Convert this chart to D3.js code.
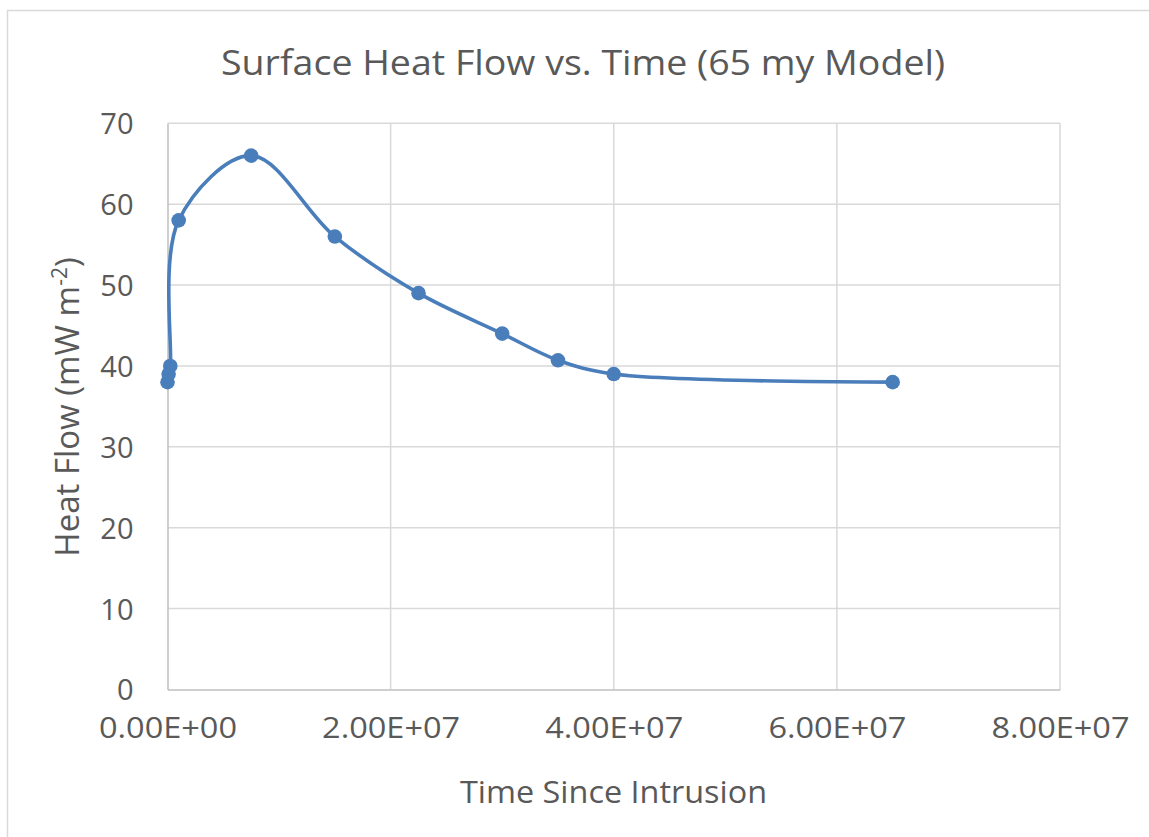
<!DOCTYPE html>
<html>
<head>
<meta charset="utf-8">
<script src="https://cdn.jsdelivr.net/npm/d3@7"></script>
<style>
  html, body { margin: 0; padding: 0; background: #fff; }
  svg { display: block; }
  text { font-family: "Open Sans", "Lato", sans-serif; fill: #595959; }
</style>
</head>
<body>
<svg id="chart" width="1149" height="837"></svg>
<script>
// ---- data ----
const timeValues = [0, 1e5, 2.5e5, 1e6, 7.5e6, 1.5e7, 2.25e7, 3.0e7, 3.5e7, 4.0e7, 6.5e7];
const heatFlowValues = [38, 39, 40, 58, 66, 56, 49, 44, 40.7, 39, 38];
const xTicks = [0, 2e7, 4e7, 6e7, 8e7];
const xTickLabels = ["0.00E+00", "2.00E+07", "4.00E+07", "6.00E+07", "8.00E+07"];
const yTicks = [0, 10, 20, 30, 40, 50, 60, 70];
const titleText = "Surface Heat Flow vs. Time (65 my Model)";
const xTitleText = "Time Since Intrusion";

// ---- layout ----
const W = 1149, H = 837;
const plot = { left: 167.5, right: 1060, top: 123.3, bottom: 689.5 };
const svg = d3.select("#chart");

// chart area border
svg.append("rect")
  .attr("x", 7.5).attr("y", 10.5)
  .attr("width", W + 20).attr("height", H + 20)
  .attr("fill", "#fff").attr("stroke", "#d9d9d9").attr("stroke-width", 1.5);

const x = d3.scaleLinear().domain([0, 8e7]).range([plot.left, plot.right]);
const y = d3.scaleLinear().domain([0, 70]).range([plot.bottom, plot.top]);

// gridlines
const gy = svg.append("g");
gy.selectAll("line").data(yTicks.filter(d => d > 0)).join("line")
  .attr("x1", plot.left).attr("x2", plot.right)
  .attr("y1", d => y(d)).attr("y2", d => y(d))
  .attr("stroke", "#d9d9d9").attr("stroke-width", 1.5);
const gx = svg.append("g");
gx.selectAll("line").data(xTicks.filter(d => d > 0)).join("line")
  .attr("x1", d => x(d)).attr("x2", d => x(d))
  .attr("y1", plot.top).attr("y2", plot.bottom)
  .attr("stroke", "#d9d9d9").attr("stroke-width", 1.5);

// axes via d3 axis
const xAxis = d3.axisBottom(x).tickValues(xTicks)
  .tickFormat((d, i) => xTickLabels[i]).tickSize(0).tickPadding(34);
const xg = svg.append("g").attr("transform", `translate(0,${plot.bottom})`).call(xAxis);
xg.select(".domain").attr("stroke", "#bfbfbf").attr("stroke-width", 1.5);
xg.selectAll("text").attr("font-size", 29).attr("fill", "#595959")
  .attr("font-family", "Open Sans").attr("dy", "0.5em")
  .attr("textLength", 138).attr("lengthAdjust", "spacingAndGlyphs");

const yAxis = d3.axisLeft(y).tickValues(yTicks).tickSize(0).tickPadding(34);
const yg = svg.append("g").attr("transform", `translate(${plot.left},0)`).call(yAxis);
yg.select(".domain").attr("stroke", "#bfbfbf").attr("stroke-width", 1.5);
yg.selectAll("text").attr("font-size", 29).attr("fill", "#595959")
  .attr("font-family", "Open Sans").attr("dy", "0.36em");

// title
svg.append("text")
  .attr("x", 583).attr("y", 75)
  .attr("text-anchor", "middle").attr("font-size", 35)
  .attr("textLength", 724).attr("lengthAdjust", "spacingAndGlyphs")
  .text(titleText);

// x axis title
svg.append("text")
  .attr("x", 613.5).attr("y", 803)
  .attr("text-anchor", "middle").attr("font-size", 31)
  .attr("textLength", 307).attr("lengthAdjust", "spacingAndGlyphs")
  .text(xTitleText);

// y axis title
const yt = svg.append("text")
  .attr("transform", "translate(79,407) rotate(-90)")
  .attr("text-anchor", "middle").attr("font-size", 33);
yt.append("tspan").text("Heat Flow (mW m");
yt.append("tspan").attr("font-size", 21).attr("dy", -12).text("-2");
yt.append("tspan").attr("dy", 12).text(")");

// series
const pts = timeValues.map((t, i) => [t, heatFlowValues[i]]);
const line = d3.line().x(d => x(d[0])).y(d => y(d[1])).curve(d3.curveCatmullRom.alpha(0.5));
svg.append("path").datum(pts)
  .attr("d", line).attr("fill", "none")
  .attr("stroke", "#4a7ebb").attr("stroke-width", 3.6)
  .attr("stroke-linecap", "round").attr("stroke-linejoin", "round");
svg.append("g").selectAll("circle").data(pts).join("circle")
  .attr("cx", d => x(d[0])).attr("cy", d => y(d[1])).attr("r", 7.3)
  .attr("fill", "#4a7ebb");
</script>
</body>
</html>
